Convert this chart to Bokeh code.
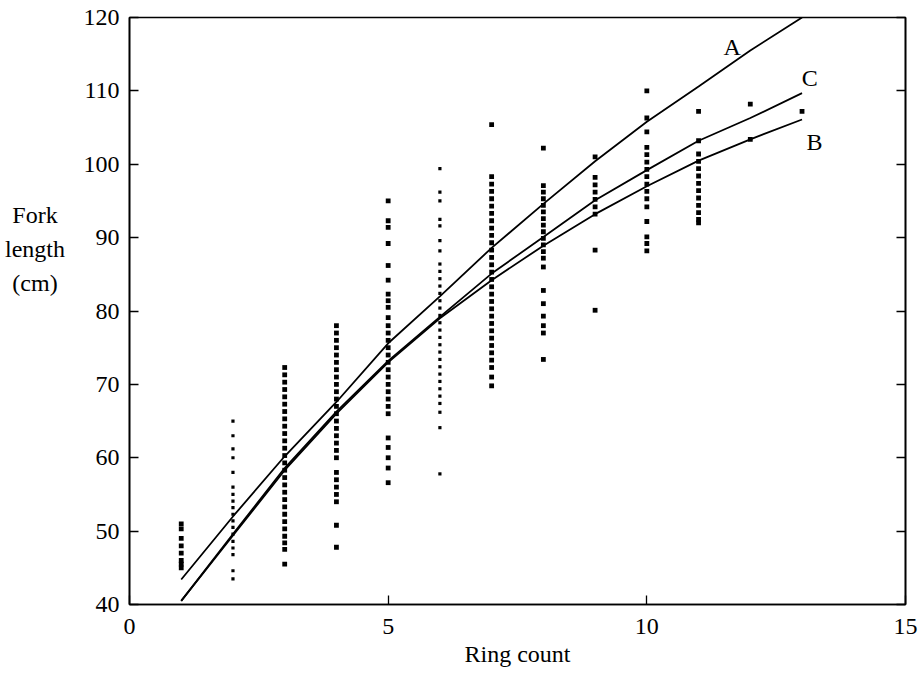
from bokeh.plotting import figure
from bokeh.models import Range1d, LinearAxis, FixedTicker, ColumnDataSource, Div
from bokeh.layouts import row
from bokeh.core.properties import value
from bokeh.embed import file_html
from bokeh.resources import INLINE

FONT = "Liberation Serif"

# fitted growth curves (fork length, cm) at ring counts 1..13
curve_rings = [1, 2, 3, 4, 5, 6, 7, 8, 9, 10, 11, 12, 13]
curve_a = [43.4, 52.0, 60.2, 67.6, 75.6, 82.0, 88.6, 94.6, 100.4, 105.8, 110.6, 115.5, 120.0]
curve_b = [40.5, 49.4, 58.3, 66.0, 73.0, 79.0, 84.2, 88.9, 93.2, 97.0, 100.5, 103.4, 106.1]
curve_c = [40.5, 49.6, 58.6, 66.3, 73.2, 79.2, 85.1, 90.1, 95.1, 99.2, 103.2, 106.3, 109.7]
curve_names = ["A", "B", "C"]
y_label_lines = ["Fork", "length", "(cm)"]

# observed fork lengths for each ring count
len_r1 = [51, 50.3, 49, 48, 47, 46, 45.5, 45]
len_r2 = [65, 63, 61.2, 60, 58, 56, 55, 54.1, 53.2, 52.3, 51.4, 50.5, 49.6, 48.6, 47.7, 46.8, 44.6, 43.5]
len_r3 = [72.3, 71.3, 70.3, 69.3, 68.3, 67.3, 66.3, 65.3, 64.3, 63.3, 62.3, 61.3, 60.3, 59.3, 58.3,
          57.3, 56.3, 55.3, 54.3, 53.3, 52.3, 51.3, 50.3, 49.3, 48.4, 47.5, 45.5]
len_r4 = [78, 77, 76, 75, 74, 73, 72, 71, 70, 69, 68, 67, 66, 65, 64, 63, 62, 61, 60,
          58, 57, 56, 55, 54, 50.8, 47.8]
len_r5 = [95, 92.3, 91.4, 89.2, 86.2, 84.2, 82.3, 81.4, 80.5, 79.1, 78, 77, 76, 75, 74, 73, 72,
          71, 70, 69, 68, 67, 66, 62.7, 61.4, 60, 58.6, 56.6]
len_r6 = [99.4, 96.2, 95, 92.5, 91.6, 89.6, 88.2, 86.4, 85.4, 84.4, 83.4, 82.4, 81.4, 80.4, 79.4,
          78.4, 77.4, 76.4, 75.4, 74.4, 73.4, 72.4, 71.4, 70.4, 69.4, 68.4, 67.4, 66.2, 64.1, 57.8]
len_r7 = [105.4, 98.3, 97.3, 96.3, 95.3, 94.3, 93.3, 92.3, 91.3, 90.3, 89.3, 88.3, 87.3, 86.3, 85.3,
          84.3, 83.3, 82.3, 81.3, 80.3, 79.3, 78.3, 77.3, 76.3, 75.3, 74.3, 73.3, 72.3, 71, 69.8]
len_r8 = [102.2, 97.1, 96.2, 95.3, 94.4, 93.5, 92.6, 91.7, 90.8, 89.9, 89, 88.1, 87.2, 86, 82.8,
          81, 79.3, 78, 77, 73.4]
len_r9 = [101, 98.2, 97.2, 96.2, 95.2, 94.2, 93.2, 88.3, 80.1]
len_r10 = [110, 106.3, 104.4, 102.3, 101.3, 100.3, 99.3, 98.3, 97.3, 96.3, 95.3, 94.2, 92.2, 90.1,
           89.2, 88.2]
len_r11 = [107.2, 103.2, 101.4, 100.4, 99.4, 98.4, 97.4, 96.4, 95.4, 94.4, 93.4, 92.5, 92]
len_r12 = [108.2, 103.4]
len_r13 = [107.2]

x_ticks = [0, 5, 10, 15]
y_ticks = [40, 50, 60, 70, 80, 90, 100, 110, 120]

columns = [len_r1, len_r2, len_r3, len_r4, len_r5, len_r6, len_r7, len_r8, len_r9,
           len_r10, len_r11, len_r12, len_r13]
xs, ys, sz = [], [], []
for ring, vals in zip(curve_rings, columns):
    s = 3.2 if ring in (2, 6) else 4.8
    for v in vals:
        xs.append(ring)
        ys.append(v)
        sz.append(s)
pts = ColumnDataSource(dict(x=xs, y=ys, s=sz))

LABEL_W = 70
FRAME_LEFT, FRAME_BOTTOM = 129, 604

p = figure(width=920 - LABEL_W, height=674, x_range=Range1d(0, 15), y_range=Range1d(40, 120),
           output_backend="svg", toolbar_location=None,
           min_border_left=FRAME_LEFT - LABEL_W, min_border_right=15, min_border_top=17,
           min_border_bottom=674 - FRAME_BOTTOM,
           background_fill_color="white", border_fill_color="white")
p.xgrid.visible = False
p.ygrid.visible = False
p.outline_line_color = "black"
p.outline_line_width = 1.6

for ax in (p.xaxis[0], p.yaxis[0]):
    ax.axis_line_color = "black"
    ax.axis_line_width = 1.6
    ax.major_tick_in = 9
    ax.major_tick_out = 0
    ax.major_tick_line_width = 1.3
    ax.minor_tick_line_color = None
    ax.major_label_text_font = FONT
    ax.major_label_text_font_size = "24px"
    ax.major_label_text_color = "black"
    ax.axis_label_text_font = FONT
    ax.axis_label_text_font_size = "24px"
    ax.axis_label_text_font_style = "normal"
    ax.axis_label_text_color = "black"

p.xaxis[0].ticker = FixedTicker(ticks=x_ticks)
p.yaxis[0].ticker = FixedTicker(ticks=y_ticks)
p.xaxis[0].axis_label = "Ring count"
p.xaxis[0].major_label_standoff = 14
p.xaxis[0].axis_label_standoff = 4
p.yaxis[0].major_label_standoff = 10

right = LinearAxis(ticker=FixedTicker(ticks=y_ticks), major_tick_in=9, major_tick_out=0,
                   major_tick_line_width=1.3, minor_tick_line_color=None,
                   axis_line_color="black", axis_line_width=1.6,
                   major_label_text_alpha=0, major_label_text_font_size="1px")
p.add_layout(right, "right")

p.scatter("x", "y", source=pts, marker="square", size="s", fill_color="black",
          line_color=None)

for c in (curve_a, curve_b, curve_c):
    p.line(curve_rings, c, line_color="black", line_width=1.8)

p.text(x=[11.65, 13.24, 13.15], y=[116.0, 103.0, 111.8], text=curve_names,
       text_font=value(FONT), text_font_size="24px", text_align="center",
       text_baseline="middle", text_color="black")

ylabel = Div(
    text=('<div style="font-family:Liberation Serif,serif;font-size:24px;'
          'line-height:34px;text-align:center;color:black;padding-top:198px;width:70px;">'
          + "<br>".join(y_label_lines) + "</div>"),
    width=LABEL_W, height=674, margin=0,
    styles={"font-family": "Liberation Serif, serif", "font-size": "24px", "color": "black"})

layout = row(ylabel, p, spacing=0)

open("out.html", "w").write(file_html(layout, INLINE))
